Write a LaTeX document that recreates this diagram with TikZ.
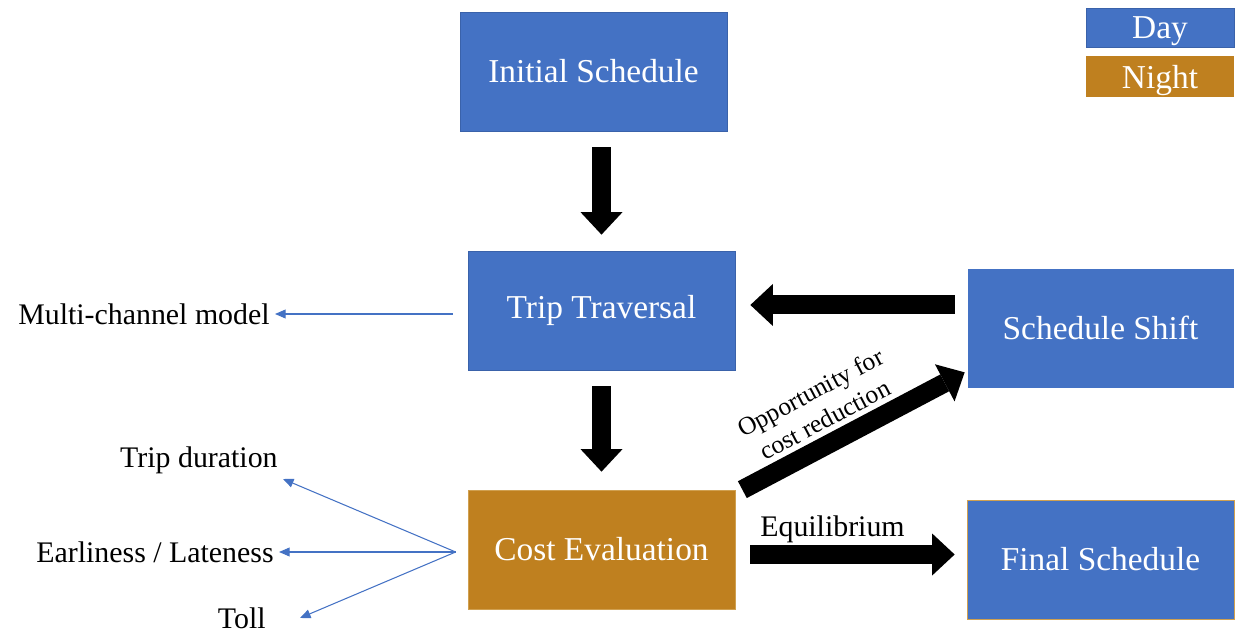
\documentclass[tikz,border=0pt]{standalone}
\usepackage{fontspec}
\setmainfont{Liberation Serif}
\usetikzlibrary{arrows.meta}

\definecolor{dayblue}{HTML}{4472C4}
\definecolor{dayedge}{HTML}{3A62AA}
\definecolor{nightorange}{HTML}{BF801F}
\definecolor{nightedge}{HTML}{D0A050}
\definecolor{thinblue}{HTML}{4472C4}

\begin{document}
\begin{tikzpicture}
		\tikzset{day/.style = {shape=rectangle, draw=dayedge, fill=dayblue, text=white, minimum width=5.34cm, minimum height=2.38cm, font=\fontsize{19}{22}\selectfont},
			night/.style = {day, draw=nightedge, fill=nightorange},
			legend/.style = {shape=rectangle, text=white, minimum width=2.96cm, inner sep=0pt, text depth=0pt, font=\fontsize{19}{22}\selectfont},
			bigarrow/.style = {line width=0.38cm, -{Triangle[length=0.45cm, width=0.84cm, line width=0pt]}},
			thinarrow/.style = {draw=thinblue, line width=0.6pt, -{Triangle[length=6pt, width=5pt]}},
			side/.style = {font=\fontsize{17}{20}\selectfont, inner sep=0.1cm}}

		\useasboundingbox (0,0) rectangle (24.7,-12.68);

		% boxes
		\node[day] (init) at (11.87,-1.43) {Initial Schedule};
		\node[day] (trip) at (12.03,-6.21) {Trip Traversal};
		\node[day, minimum height=2.4cm, draw=white] (shift) at (22.01,-6.56) {Schedule Shift};
		\node[night] (cost) at (12.03,-10.99) {Cost Evaluation};
		\node[day, draw=nightedge] (final) at (22.01,-11.19) {Final Schedule};

		% legend
		\node[legend, fill=dayblue, draw=dayedge, minimum height=0.78cm] (dayleg) at (23.2,-0.55) {Day};
		\node[legend, fill=nightorange, minimum height=0.82cm] (nightleg) at (23.2,-1.53) {Night};

		% side texts
		\node[side, anchor=east] (multi) at (5.5,-6.28) {Multi-channel model};
		\node[side, anchor=south east] (dur) at (5.66,-9.58) {Trip duration};
		\node[side, anchor=east] (early) at (5.58,-11.04) {Earliness / Lateness};
		\node[side, anchor=east] (toll) at (5.42,-12.36) {Toll};

		\coordinate (hub) at ([xshift=-0.24cm]cost.west |- early.east);

		\draw[bigarrow, shorten <=0.32cm, shorten >=0.32cm] (trip.north |- init.south) -- (trip.north);
		\draw[bigarrow, shorten <=0.32cm, shorten >=0.36cm] (trip) -- (cost);
		\draw[bigarrow, shorten <=0.24cm, shorten >=0.3cm] ([yshift=0.11cm]shift.west |- trip.east) -- ([yshift=0.11cm]trip.east);
		\draw[bigarrow, shorten <=0.3cm, shorten >=0.24cm] ([yshift=-0.1cm]cost.east) -- ([yshift=-0.1cm]cost.east -| final.west)
			node[pos=0.42, above=0cm, inner sep=1pt, font=\fontsize{17}{20}\selectfont] {Equilibrium};
		\draw[bigarrow] ([xshift=0.14cm]cost.north east) -- ([xshift=-0.04cm, yshift=0.32cm]shift.south west)
			node[pos=0.42, sloped, above=0.1cm, inner sep=0pt, align=center, font=\fontsize{14.5}{17.5}\selectfont] {Opportunity for\\cost reduction};

		\draw[thinarrow] ([xshift=-0.3cm]trip.west |- multi.east) -- (multi.east);
		\draw[thinarrow] (hub) -- (dur.south east);
		\draw[thinarrow] (hub) -- (early.east);
		\draw[thinarrow] (hub) -- ([xshift=0.58cm]toll.east);

	\end{tikzpicture}
\end{document}
